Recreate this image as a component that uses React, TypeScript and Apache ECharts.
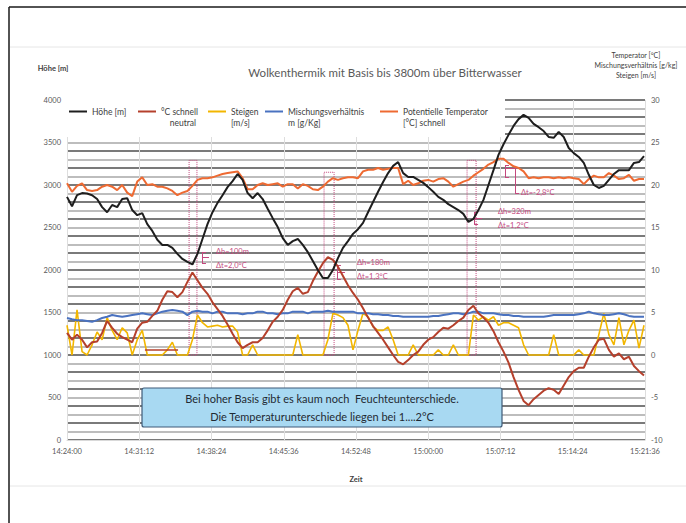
import React, { useEffect, useRef } from 'react';
import * as echarts from 'echarts';

// ---- data ----
const sampleStep = 30; // seconds between samples, t = index * sampleStep (from 14:24:00)
const timeLabels = ['14:24:00', '14:31:12', '14:38:24', '14:45:36', '14:52:48', '15:00:00', '15:07:12', '15:14:24', '15:21:36'];

const hoehe = [
  2860, 2750, 2880, 2905, 2900, 2880, 2835, 2740, 2680, 2765,
  2740, 2835, 2845, 2705, 2645, 2670, 2540, 2460, 2355, 2295,
  2295, 2260, 2190, 2130, 2095, 2065, 2190, 2365, 2540, 2680,
  2790, 2880, 2975, 3045, 3130, 3060, 2905, 2845, 2905, 2835,
  2720, 2610, 2505, 2375, 2295, 2340, 2365, 2295, 2210, 2105,
  2000, 1905, 1905, 2000, 2140, 2260, 2340, 2425, 2480, 2555,
  2680, 2800, 2920, 3035, 3140, 3225, 3270, 3140, 3095, 3095,
  3060, 3025, 2975, 2920, 2860, 2825, 2775, 2740, 2705, 2660,
  2565, 2600, 2705, 2825, 3000, 3175, 3355, 3480, 3590, 3695,
  3775, 3825, 3790, 3720, 3680, 3635, 3565, 3555, 3625, 3565,
  3435, 3375, 3330, 3260, 3120, 3000, 2965, 2990, 3060, 3130,
  3175, 3175, 3175, 3260, 3270, 3340,
];

const tempNeutral = [
  2.6, 1.8, 2.4, 1.8, 0.9, 1.5, 1.6, 2.6, 4.0, 3.2,
  2.5, 2.1, 1.8, 1.5, 3.1, 3.8, 3.9, 4.6, 5.2, 6.5,
  7.5, 7.4, 6.8, 7.4, 8.6, 9.7, 8.8, 7.9, 7.2, 6.2,
  5.4, 4.6, 3.6, 2.5, 1.5, 0.8, 1.2, 1.5, 1.5, 2.0,
  2.9, 3.9, 4.5, 5.3, 6.5, 7.5, 7.9, 7.2, 7.4, 8.7,
  9.8, 10.8, 11.5, 11.2, 10.4, 9.3, 8.2, 7.3, 6.5, 5.5,
  4.4, 3.4, 2.6, 1.8, 0.9, 0.0, -0.8, -1.1, -0.6, 0.0,
  0.4, 1.2, 1.8, 2.1, 2.7, 3.2, 3.1, 3.5, 4.0, 4.4,
  5.3, 5.8, 4.9, 4.4, 3.8, 2.8, 1.5, 0.4, -0.9, -2.6,
  -4.1, -5.4, -5.9, -5.2, -4.7, -4.2, -3.9, -4.1, -4.6, -3.6,
  -2.6, -1.9, -1.5, -1.5, -0.2, 0.9, 1.8, 1.9, 0.6, -0.2,
  0.2, -0.5, -0.2, -1.3, -1.9, -2.4,
];

const steigen = [
  3.5, 0, 5.3, 0.4, 0, 1.2, 2.7, 1.8, 4.4, 2.9,
  1.8, 3.2, 2.6, 0, 1.8, 2.9, 0, 0, 0, 0,
  0.6, 1.5, 0, 0, 0, 1.8, 4.7, 3.8, 3.3, 3.4,
  3.5, 3.3, 3.4, 3.4, 2.7, 0, 0, 1.2, 0, 0,
  0, 0, 0, 0, 0, 0, 2.4, 0, 0, 0,
  0, 0, 1.8, 4.9, 4.7, 4.4, 3.5, 0.6, 2.9, 4.9,
  4.5, 3.3, 2.9, 2.9, 3.3, 1.8, 0, 0, 0, 1.2,
  0, 0, 0, 0, 0.6, 0, 0, 1.2, 0, 0,
  0, 4.7, 4.1, 4.5, 4.1, 4.5, 3.5, 3.8, 3.8, 3.5,
  3.2, 1.2, 0, 0, 0, 0, 0, 2.4, 0, 0,
  0, 0, 0.6, 0, 0, 0, 2.4, 4.9, 2.4, 1.2,
  4.4, 1.2, 2.9, 4.1, 0.8, 3.5,
];

const mischung = [
  4.35, 4.2, 4.1, 4.1, 4.0, 3.9, 4.1, 4.35, 4.5, 4.7,
  4.6, 4.5, 4.6, 4.7, 4.8, 4.9, 4.8, 4.7, 4.9, 5.1,
  5.2, 5.3, 5.2, 5.1, 4.7, 5.1, 5.2, 5.1, 5.1, 4.9,
  5.1, 5.1, 4.9, 4.9, 4.9, 4.8, 4.9, 4.9, 5.1, 5.1,
  4.9, 4.9, 4.8, 4.9, 4.9, 5.1, 5.1, 5.1, 4.9, 5.1,
  5.1, 5.1, 5.2, 5.1, 5.1, 5.1, 5.1, 5.1, 4.9, 4.9,
  4.9, 4.8, 4.8, 4.7, 4.7, 4.6, 4.6, 4.5, 4.5, 4.5,
  4.5, 4.5, 4.5, 4.6, 4.6, 4.7, 4.8, 4.9, 4.9, 4.8,
  4.9, 5.1, 5.1, 4.9, 4.9, 4.9, 4.8, 4.7, 4.7, 4.6,
  4.6, 4.5, 4.5, 4.5, 4.5, 4.5, 4.6, 4.7, 4.7, 4.7,
  4.7, 4.7, 4.8, 4.9, 5.1, 4.9, 4.8, 4.7, 4.7, 4.8,
  4.9, 4.8, 4.6, 4.5, 4.5, 4.5,
];

const potTemp = [
  20.2, 19.2, 19.9, 20.2, 19.4, 19.3, 19.4, 19.8, 20.0, 19.8,
  19.4, 20.0, 19.1, 18.7, 20.4, 20.9, 20.0, 20.1, 19.8, 19.8,
  19.6, 19.3, 18.8, 19.1, 19.3, 19.9, 20.6, 20.8, 20.8, 20.9,
  21.1, 21.3, 21.4, 21.5, 21.6, 20.8, 19.5, 19.5, 20.0, 20.2,
  20.0, 20.1, 20.2, 19.8, 20.1, 20.1, 19.6, 20.1, 19.9, 19.5,
  19.4, 19.8, 20.4, 20.8, 20.6, 20.8, 20.9, 20.9, 20.8, 21.6,
  21.8, 21.8, 22.0, 21.8, 21.9, 22.0, 22.0, 20.1, 20.5, 20.0,
  20.2, 20.5, 20.6, 20.4, 20.7, 20.8, 20.4, 19.8, 20.1, 20.4,
  20.6, 21.1, 21.5, 21.9, 22.4, 22.7, 23.1, 23.1, 22.6, 22.2,
  22.0, 21.6, 20.8, 20.9, 20.8, 20.9, 20.9, 20.8, 20.9, 20.8,
  20.9, 20.8, 20.7, 20.1, 20.7, 21.1, 20.9, 20.9, 21.4, 21.1,
  20.7, 20.8, 21.2, 20.5, 20.7, 20.7,
];

// short isolated neutral-temperature segment
const neutralGapTimes = [466, 664];
const neutralGapValue = 0.6;

// annotation intervals (seconds) and top (°C) of the dotted boxes
const boxFrom = [730, 1537, 2392];
const boxTo = [777, 1597, 2446];
const boxTop = [22.9, 21.5, 22.9];

// annotation bracket segments in [seconds, metres]
const bracketSegments = [
  [[807, 2212], [807, 2082]], [[807, 2212], [831, 2212]], [[807, 2082], [831, 2082]], [[807, 2153], [849, 2153]],
  [[1615, 2059], [1615, 1894]], [[1615, 2059], [1638, 2059]], [[1615, 1894], [1638, 1894]], [[1615, 1976], [1662, 1976]],
  [[2434, 2682], [2434, 2541]], [[2434, 2682], [2458, 2682]], [[2434, 2541], [2458, 2541]], [[2434, 2612], [2482, 2612]],
  [[2619, 3235], [2619, 3094]], [[2619, 3235], [2643, 3235]], [[2619, 3094], [2643, 3094]], [[2619, 3200], [2679, 3200]],
  [[2679, 3200], [2679, 2906]], [[2679, 2906], [2703, 2906]],
];

const seriesNames = [
  'Höhe [m]',
  '°C schnell neutral',
  'Steigen [m/s]',
  'Mischungsverhältnis m [g/Kg]',
  'Potentielle Temperator [°C] schnell',
];
const legendText: Record<string, string> = {
  'Höhe [m]': 'Höhe [m]',
  '°C schnell neutral': '\n°C schnell\n    neutral',
  'Steigen [m/s]': '\nSteigen\n[m/s]',
  'Mischungsverhältnis m [g/Kg]': '\nMischungsverhältnis\nm [g/Kg]',
  'Potentielle Temperator [°C] schnell': '\nPotentielle Temperator\n[°C] schnell',
};
const seriesColors = ['#1e1e1e', '#b5402c', '#f2b600', '#4a72c0', '#ee6a32'];

const FONT = 'Lato, "Noto Sans", sans-serif';
const PINK = '#c4487e';

const toPairs = (arr: number[]) => arr.map((v, i) => [i * sampleStep, v]);

export default function App() {
  const ref = useRef<HTMLDivElement>(null);

  useEffect(() => {
    if (!ref.current) return;
    const chart = echarts.init(ref.current, undefined, { renderer: 'svg' });

    const legendLefts = [69, 138, 208, 265, 380];
    const legends = seriesNames.map((name, i) => ({
      data: [name],
      left: legendLefts[i],
      top: i === 0 ? 106 : 95,
      padding: 0,
      icon: 'rect',
      itemWidth: 18,
      itemHeight: 2,
      itemGap: 0,
      formatter: (n: string) => legendText[n],
      textStyle: { fontSize: 8.5, color: '#404040', fontFamily: FONT, lineHeight: 11 },
      selectedMode: false,
    }));

    const gridColors = ['#7a7a7a', '#bdbdbd'];

    const option: any = {
      animation: false,
      backgroundColor: '#ffffff',
      title: {
        text: 'Wolkenthermik mit Basis bis 3800m über Bitterwasser',
        left: 380,
        top: 61,
        textAlign: 'center',
        textStyle: { fontSize: 11.5, fontWeight: 'normal', color: '#595959', fontFamily: FONT },
      },
      legend: legends,
      grid: { left: 67, right: 41, top: 100, bottom: 83, containLabel: false },
      xAxis: {
        type: 'value',
        min: 0,
        max: 3456,
        interval: 432,
        name: 'Zeit',
        nameLocation: 'middle',
        nameGap: 35,
        nameTextStyle: { fontSize: 7.5, fontWeight: 'bold', color: '#404040', fontFamily: FONT },
        axisLine: { show: true, lineStyle: { color: '#d9d9d9' } },
        axisTick: { show: false },
        axisLabel: {
          fontSize: 7.5,
          color: '#595959',
          fontFamily: FONT,
          margin: 7,
          formatter: (v: number) => timeLabels[Math.round(v / 432)] ?? '',
        },
        splitLine: { show: true, lineStyle: { color: '#dedede', width: 1 } },
      },
      yAxis: [
        {
          type: 'value',
          min: 0,
          max: 4000,
          interval: 100,
          axisLine: { show: false },
          axisTick: { show: false },
          axisLabel: {
            fontSize: 7.5,
            color: '#595959',
            fontFamily: FONT,
            margin: 6,
            formatter: (v: number) => (v % 500 === 0 ? String(v) : ''),
          },
          splitLine: { show: true, lineStyle: { color: gridColors, width: 2.2 } },
        },
        {
          type: 'value',
          min: -10,
          max: 30,
          interval: 5,
          axisLine: { show: false },
          axisTick: { show: false },
          axisLabel: { fontSize: 7.5, color: '#595959', fontFamily: FONT, margin: 6 },
          splitLine: { show: false },
        },
      ],
      series: [
        {
          name: seriesNames[0],
          type: 'line',
          yAxisIndex: 0,
          data: toPairs(hoehe),
          symbol: 'none',
          z: 6,
          lineStyle: { color: seriesColors[0], width: 2 },
          itemStyle: { color: seriesColors[0] },
          markLine: {
            silent: true,
            symbol: ['none', 'none'],
            label: { show: false },
            lineStyle: { color: PINK, width: 1, type: 'solid' },
            data: bracketSegments.map((seg) => [{ coord: seg[0] }, { coord: seg[1] }]),
          },
        },
        {
          name: seriesNames[1],
          type: 'line',
          yAxisIndex: 1,
          data: toPairs(tempNeutral),
          symbol: 'none',
          z: 5,
          lineStyle: { color: seriesColors[1], width: 2 },
          itemStyle: { color: seriesColors[1] },
          markArea: {
            silent: true,
            itemStyle: { color: 'rgba(0,0,0,0)', borderColor: PINK, borderWidth: 1, borderType: 'dotted' },
            label: { show: false },
            data: boxFrom.map((f, i) => [
              { xAxis: f, yAxis: 0 },
              { xAxis: boxTo[i], yAxis: boxTop[i] },
            ]),
          },
        },
        {
          name: seriesNames[2],
          type: 'line',
          yAxisIndex: 1,
          data: toPairs(steigen),
          symbol: 'none',
          z: 3,
          lineStyle: { color: seriesColors[2], width: 1.6 },
          itemStyle: { color: seriesColors[2] },
        },
        {
          name: seriesNames[3],
          type: 'line',
          yAxisIndex: 1,
          data: toPairs(mischung),
          symbol: 'none',
          z: 4,
          lineStyle: { color: seriesColors[3], width: 2 },
          itemStyle: { color: seriesColors[3] },
        },
        {
          name: seriesNames[4],
          type: 'line',
          yAxisIndex: 1,
          data: toPairs(potTemp),
          symbol: 'none',
          z: 5,
          lineStyle: { color: seriesColors[4], width: 2 },
          itemStyle: { color: seriesColors[4] },
        },
        {
          name: 'neutral-segment',
          type: 'line',
          yAxisIndex: 1,
          data: neutralGapTimes.map((t) => [t, neutralGapValue]),
          symbol: 'none',
          z: 5,
          lineStyle: { color: seriesColors[1], width: 1.5 },
          itemStyle: { color: seriesColors[1] },
        },
      ],
      graphic: [
        { type: 'line', shape: { x1: 9, y1: 7, x2: 9, y2: 523 }, style: { stroke: '#1a1a1a', lineWidth: 1.5 }, z: 20 },
        { type: 'line', shape: { x1: 9, y1: 7, x2: 686, y2: 7 }, style: { stroke: '#1a1a1a', lineWidth: 1.5 }, z: 20 },
        { type: 'line', shape: { x1: 10, y1: 47, x2: 686, y2: 47 }, style: { stroke: '#e6e6e6', lineWidth: 1 }, z: 20 },
        { type: 'line', shape: { x1: 10, y1: 486, x2: 686, y2: 486 }, style: { stroke: '#e6e6e6', lineWidth: 1 }, z: 20 },
        { type: 'rect', shape: { x: 67, y: 99, width: 438, height: 38 }, style: { fill: '#ffffff' }, z: 1 },
        {
          type: 'text', x: 53, y: 68, z: 20,
          style: { text: 'Höhe [m]', fontSize: 7.5, fontWeight: 'bold', fill: '#404040', fontFamily: FONT, align: 'center', verticalAlign: 'middle', textAlign: 'center', textVerticalAlign: 'middle' },
        },
        {
          type: 'text', x: 636, y: 65, z: 20,
          style: { text: 'Temperator [°C]\nMischungsverhältnis [g/kg]\nSteigen [m/s]', fontSize: 7, lineHeight: 10, fill: '#404040', fontFamily: FONT, align: 'center', verticalAlign: 'middle', textAlign: 'center', textVerticalAlign: 'middle' },
        },
        {
          type: 'text', x: 216, y: 251, z: 20,
          style: { text: 'Δh=100m', fontSize: 7.5, fill: PINK, fontFamily: FONT, verticalAlign: 'middle', textVerticalAlign: 'middle' },
        },
        {
          type: 'text', x: 216, y: 265, z: 20,
          style: { text: 'Δt=2,0°C', fontSize: 7.5, fill: PINK, fontFamily: FONT, verticalAlign: 'middle', textVerticalAlign: 'middle' },
        },
        {
          type: 'text', x: 357, y: 262, z: 20,
          style: { text: 'Δh=180m', fontSize: 7.5, fill: PINK, fontFamily: FONT, verticalAlign: 'middle', textVerticalAlign: 'middle' },
        },
        {
          type: 'text', x: 357, y: 276, z: 20,
          style: { text: 'Δt=1,3°C', fontSize: 7.5, fill: PINK, fontFamily: FONT, verticalAlign: 'middle', textVerticalAlign: 'middle' },
        },
        {
          type: 'text', x: 498, y: 211, z: 20,
          style: { text: 'Δh=320m', fontSize: 7.5, fill: PINK, fontFamily: FONT, verticalAlign: 'middle', textVerticalAlign: 'middle' },
        },
        {
          type: 'text', x: 498, y: 225, z: 20,
          style: { text: 'Δt=1,2°C', fontSize: 7.5, fill: PINK, fontFamily: FONT, verticalAlign: 'middle', textVerticalAlign: 'middle' },
        },
        {
          type: 'text', x: 521, y: 192, z: 20,
          style: { text: 'Δt=-2,8°C', fontSize: 7.5, fill: PINK, fontFamily: FONT, verticalAlign: 'middle', textVerticalAlign: 'middle' },
        },
        {
          type: 'rect', shape: { x: 142, y: 388, width: 360, height: 39, r: 2 }, z: 20,
          style: { fill: '#a8d9f2', stroke: '#3f5b78', lineWidth: 1.2 },
        },
        {
          type: 'text', x: 322, y: 398, z: 21,
          style: { text: 'Bei hoher Basis gibt es kaum noch  Feuchteunterschiede.', fontSize: 11, fill: '#1f2a33', fontFamily: FONT, align: 'center', verticalAlign: 'middle', textAlign: 'center', textVerticalAlign: 'middle' },
        },
        {
          type: 'text', x: 322, y: 416, z: 21,
          style: { text: 'Die Temperaturunterschiede liegen bei 1....2°C', fontSize: 11, fill: '#1f2a33', fontFamily: FONT, align: 'center', verticalAlign: 'middle', textAlign: 'center', textVerticalAlign: 'middle' },
        },
      ],
    };

    chart.setOption(option);
    return () => chart.dispose();
  }, []);

  return (
    <div
      ref={ref}
      style={{ position: 'fixed', left: 0, top: 0, width: 686, height: 523, background: '#fff' }}
    />
  );
}
